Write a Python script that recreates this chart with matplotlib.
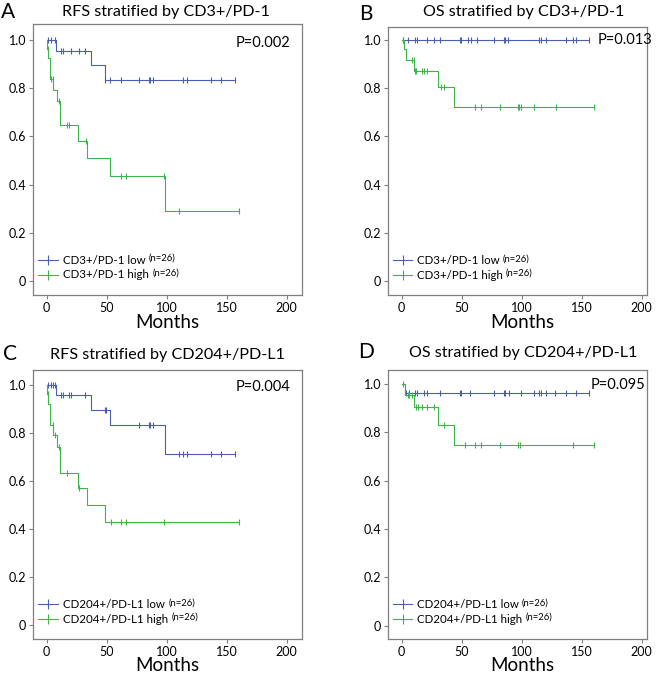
import numpy as np
import matplotlib
matplotlib.use("Agg")
import matplotlib.pyplot as plt

plt.rcParams['font.family'] = ['Lato', 'DejaVu Sans']

BLUE = "#4c5fae"
GREEN = "#3db54a"
FRAME = "#7f7f7f"

# ---- data (drop times, survival after drop, last follow-up, censor times)
a_low_drop = [7.5, 37, 49]
a_low_surv = [0.955, 0.896, 0.834]
a_low_end = 157
a_low_cens = [1.4, 3.3, 7, 12, 14, 20, 27, 32, 49, 53, 62, 77, 85, 86, 89, 114, 117, 137, 145, 157]
a_high_drop = [0.3, 1, 3, 5.5, 8.3, 11.4, 26.4, 33.3, 53, 99]
a_high_surv = [0.963, 0.924, 0.838, 0.793, 0.747, 0.646, 0.58, 0.509, 0.436, 0.29]
a_high_end = 160.5
a_high_cens = [0.8, 3.3, 5, 10, 17, 19, 33, 62, 66, 98, 110, 160.5]

b_low_drop = []
b_low_surv = []
b_low_end = 156
b_low_cens = [1, 5, 11, 13, 21, 27, 32, 49, 49.5, 55, 58, 62.5, 77, 85, 86, 89, 114, 116, 120, 137, 143, 145, 156]
b_high_drop = [2, 3.6, 10.3, 30, 43.6]
b_high_surv = [0.961, 0.916, 0.871, 0.804, 0.723]
b_high_end = 160.5
b_high_cens = [1, 9, 10, 11, 12, 17, 19, 21, 33, 35, 61, 66, 82, 97, 98, 99, 110, 128.6, 160.5]

c_low_drop = [7.5, 37, 53, 99]
c_low_surv = [0.958, 0.896, 0.831, 0.711]
c_low_end = 157
c_low_cens = [1.4, 3.3, 5, 7, 12, 14, 19, 20, 32, 48.6, 49.4, 77, 85, 86, 89, 110, 114, 117, 137, 145, 157]
c_high_drop = [0.3, 1, 3, 5.5, 8.3, 11.4, 26.4, 33.3, 49]
c_high_surv = [0.9625, 0.92, 0.833, 0.789, 0.739, 0.632, 0.569, 0.497, 0.426]
c_high_end = 160.5
c_high_cens = [0.8, 5, 7, 10, 17, 27, 53.6, 62, 66, 98, 160.5]

d_low_drop = [3]
d_low_surv = [0.96]
d_low_end = 156
d_low_cens = [4, 6, 11, 12.5, 19, 21, 32, 48.6, 49.4, 57, 77, 85, 86, 89.4, 99, 110, 114, 116, 120, 128, 137, 145, 156]
d_high_drop = [3, 10.3, 30, 43.6]
d_high_surv = [0.954, 0.906, 0.83, 0.748]
d_high_end = 160.5
d_high_cens = [1, 5, 6.4, 8.6, 12, 14, 17, 21, 27, 35, 53, 61, 66, 82, 97, 98.6, 143, 160.5]

titles = ["RFS stratified by CD3+/PD-1", "OS stratified by CD3+/PD-1",
          "RFS stratified by CD204+/PD-L1", "OS stratified by CD204+/PD-L1"]
letters = ["A", "B", "C", "D"]
pvals = ["P=0.002", "P=0.013", "P=0.004", "P=0.095"]
groups = [("CD3+/PD-1 low", "CD3+/PD-1 high"), ("CD3+/PD-1 low", "CD3+/PD-1 high"),
          ("CD204+/PD-L1 low", "CD204+/PD-L1 high"), ("CD204+/PD-L1 low", "CD204+/PD-L1 high")]
n_low = 26
n_high = 26

curves = [
    ((a_low_drop, a_low_surv, a_low_end, a_low_cens), (a_high_drop, a_high_surv, a_high_end, a_high_cens)),
    ((b_low_drop, b_low_surv, b_low_end, b_low_cens), (b_high_drop, b_high_surv, b_high_end, b_high_cens)),
    ((c_low_drop, c_low_surv, c_low_end, c_low_cens), (c_high_drop, c_high_surv, c_high_end, c_high_cens)),
    ((d_low_drop, d_low_surv, d_low_end, d_low_cens), (d_high_drop, d_high_surv, d_high_end, d_high_cens)),
]

W, H = 660, 676
fig = plt.figure(figsize=(W / 100, H / 100), dpi=100)

# pixel boxes (left, top, right, bottom) and axis limits
boxes = [(33, 24, 302, 295), (388, 27, 647, 295), (33, 370, 302, 639), (388, 370, 647, 639)]
xlims = [(-11.4, 212.8), (-11.4, 204.4), (-11.4, 212.8), (-11.4, 204.4)]
ylims = [(-0.058, 1.066), (-0.058, 1.054), (-0.06, 1.061), (-0.055, 1.057)]
title_xy = [(166, 12), (524, 12), (167, 355), (523, 353)]
letter_xy = [(8, 12), (366, 14), (10, 354), (366, 352)]
pval_xy = [(290, 43), (652, 40), (290, 387), (645, 385)]
months_xy = [(167, 328), (522, 328), (167, 671), (522, 671)]


def km_step(drop, surv, end):
    t = np.array([0] + list(drop) + [end], dtype=float)
    s = np.array([1.0] + list(surv) + [([1.0] + list(surv))[-1]])
    return t, s


def surv_at(drop, surv, times):
    levels = np.array([1.0] + list(surv))
    idx = np.searchsorted(np.array(drop, dtype=float), np.array(times, dtype=float), side="right")
    return levels[idx]


def fx(px):
    return px / W


def fy(py):
    return 1 - py / H


for i in range(4):
    l, t, r, b = boxes[i]
    ax = fig.add_axes([fx(l), fy(b), fx(r) - fx(l), fy(t) - fy(b)])
    for (drop, surv, end, cens), col in zip(curves[i], [BLUE, GREEN]):
        tt, ss = km_step(drop, surv, end)
        ax.step(tt, ss, where="post", color=col, lw=0.8)
        ax.plot(cens, surv_at(drop, surv, cens), ls="none", marker="|",
                ms=4, mew=0.8, color=col)
    ax.set_xlim(*xlims[i])
    ax.set_ylim(*ylims[i])
    ax.set_xticks([0, 50, 100, 150, 200])
    ax.set_yticks([0, 0.2, 0.4, 0.6, 0.8, 1.0])
    ax.set_yticklabels(["0", "0.2", "0.4", "0.6", "0.8", "1.0"])
    ax.tick_params(labelsize=9, length=3, width=0.8, color=FRAME, pad=2)
    for sp in ax.spines.values():
        sp.set_color(FRAME)
        sp.set_linewidth(0.9)

    # legend drawn by hand
    lab_low, lab_high = groups[i]
    for row, (lab, col, n) in enumerate([(lab_low, BLUE, n_low), (lab_high, GREEN, n_high)]):
        yy = 0.129 - row * 0.055
        ax.plot([0.019, 0.093], [yy, yy], color=col, lw=0.8, transform=ax.transAxes)
        ax.plot([0.056], [yy], marker="|", ms=7, mew=0.8, color=col, transform=ax.transAxes)
        txt = ax.text(0.112, yy, lab, fontsize=8.3, va="center", ha="left", transform=ax.transAxes)
        fig.canvas.draw()
        bb = txt.get_window_extent()
        x_end = ax.transAxes.inverted().transform((bb.x1, bb.y0))[0]
        ax.text(x_end + 0.012, yy + 0.006, "(n=%d)" % n, fontsize=6.8, va="center", ha="left",
                transform=ax.transAxes)

    fig.text(fx(title_xy[i][0]), fy(title_xy[i][1]), titles[i], fontsize=11.6, ha="center", va="center")
    fig.text(fx(letter_xy[i][0]), fy(letter_xy[i][1]), letters[i], fontsize=15, ha="center", va="center")
    fig.text(fx(pval_xy[i][0]), fy(pval_xy[i][1]), pvals[i], fontsize=10.5, ha="right", va="center")
    fig.text(fx(months_xy[i][0]), fy(months_xy[i][1]), "Months", fontsize=13.5, ha="center", va="baseline")

fig.savefig("out.png", dpi=100)
